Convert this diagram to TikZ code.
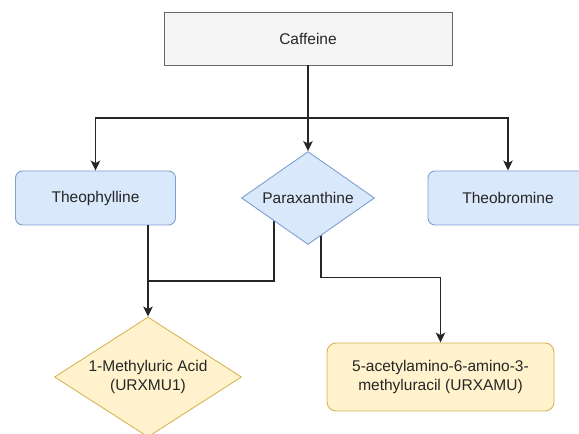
\documentclass[tikz,border=0pt]{standalone}
\usepackage{fontspec}
\setmainfont{Liberation Sans}
\usepackage{tikz}
\usetikzlibrary{arrows.meta,positioning,shapes.geometric,calc,backgrounds}
\definecolor{gfill}{HTML}{F5F5F5}
\definecolor{gdraw}{HTML}{666666}
\definecolor{bfill}{HTML}{DAE8FC}
\definecolor{bdraw}{HTML}{7EA0D0}
\definecolor{yfill}{HTML}{FFF2CC}
\definecolor{ydraw}{HTML}{D6B656}
\tikzset{
  flow/base/.style={line width=0.9pt, align=center, inner sep=0pt, text=black!85,
    font=\fontsize{15.5}{19.5}\selectfont},
  flow/start/.style={flow/base, rectangle, draw=gdraw, fill=gfill, minimum width=288pt, minimum height=53pt},
  flow/drug/.style={flow/base, rectangle, rounded corners=7pt, draw=bdraw, fill=bfill, minimum width=160pt, minimum height=54pt},
  flow/branch/.style={flow/base, diamond, draw=bdraw, fill=bfill, aspect=1.43, minimum width=133pt, minimum height=93pt},
  flow/metab/.style={flow/base, rectangle, rounded corners=9pt, draw=ydraw, fill=yfill, minimum width=227pt, minimum height=68pt},
  flow/metabdec/.style={flow/base, diamond, draw=ydraw, fill=yfill, aspect=1.56, minimum width=187pt, minimum height=120pt},
  flow/line/.style={line width=1.4pt, draw=black!85},
  flow/arr/.style={flow/line, -{Stealth[length=10pt, width=9.5pt, inset=2.5pt]}}
}

\begin{document}
\begin{tikzpicture}[x=1pt, y=1pt]
  \useasboundingbox (0,0) rectangle (579,434);
  \node[flow/start] (caffeine) at (308,395.5) {Caffeine};
  \node[flow/drug] (theophylline) at (95.5,236) {Theophylline};
  \node[flow/branch] (paraxanthine) at (308,236) {Paraxanthine};
  \node[flow/drug] (theobromine) at (508,236) {Theobromine};
  \node[flow/metabdec] (methyluric) at (148,57) {1-Methyluric Acid\\(URXMU1)};
  \node[flow/metab] (acetyl) at (440.5,57) {5-acetylamino-6-amino-3-\\methyluracil (URXAMU)};
  \coordinate (split) at (caffeine.center |- 0,316);
  \coordinate (join) at (methyluric.center |- 0,153);
  \draw[flow/arr] (caffeine) -- (paraxanthine);
  \draw[flow/arr] (split) -| (theophylline);
  \draw[flow/arr] (split) -| (theobromine);
  \draw[flow/arr] (theophylline.south -| methyluric) -- (methyluric);
  \begin{scope}[on background layer]
    \draw[flow/line] ($(paraxanthine.center)+(-34,0)$) |- (join);
    \draw[flow/arr] ($(paraxanthine.center)+(13,0)$) |- ($(acetyl.north)+(0,65)$) -- (acetyl);
  \end{scope}
\end{tikzpicture}
\end{document}
